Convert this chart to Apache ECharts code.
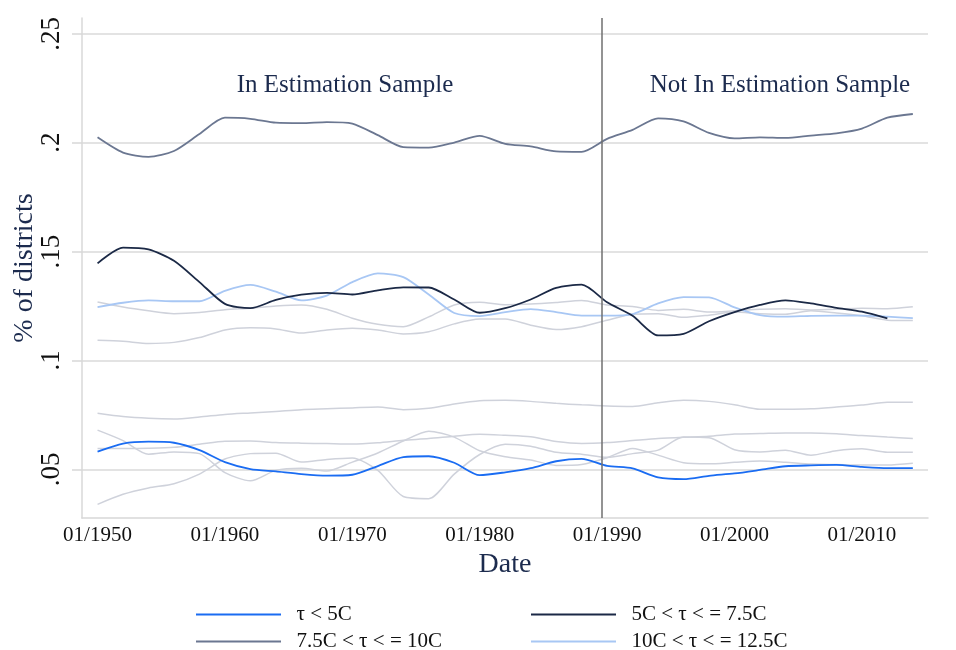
<!DOCTYPE html>
<html>
<head>
<meta charset="utf-8">
<script src="https://cdn.jsdelivr.net/npm/echarts@6/dist/echarts.min.js"></script>
<style>
  html, body { margin: 0; padding: 0; background: #ffffff; }
  #chart { width: 956px; height: 650px; }
</style>
</head>
<body>
<div id="chart"></div>
<script>
// Observation dates (January of every second year)
const years = [1950, 1952, 1954, 1956, 1958, 1960, 1962, 1964, 1966, 1968, 1970,
  1972, 1974, 1976, 1978, 1980, 1982, 1984, 1986, 1988, 1990, 1992, 1994, 1996,
  1998, 2000, 2002, 2004, 2006, 2008, 2010, 2012, 2014];

// Share of districts by temperature bin (highlighted bins)
const tauBelow5 = [0.0581, 0.0618, 0.0627, 0.0622, 0.0588, 0.0533, 0.0501, 0.0490, 0.0478, 0.0471, 0.0475,
  0.0515, 0.0556, 0.0560, 0.0530, 0.0473, 0.0486, 0.0505, 0.0537, 0.0548, 0.0516, 0.0504, 0.0463, 0.0455,
  0.0470, 0.0481, 0.0497, 0.0514, 0.0518, 0.0520, 0.0511, 0.0505, 0.0505];
const tau5to75 = [0.1446, 0.1518, 0.1510, 0.1458, 0.1360, 0.1260, 0.1240, 0.1278, 0.1302, 0.1310, 0.1303,
  0.1322, 0.1336, 0.1335, 0.1280, 0.1219, 0.1240, 0.1280, 0.1333, 0.1348, 0.1267, 0.1205, 0.1115, 0.1122,
  0.1180, 0.1222, 0.1255, 0.1276, 0.1262, 0.1242, 0.1224, 0.1193, null];
const tau75to10 = [0.2025, 0.1955, 0.1935, 0.1962, 0.2040, 0.2115, 0.2110, 0.2092, 0.2090, 0.2095, 0.2088,
  0.2035, 0.1980, 0.1978, 0.2001, 0.2032, 0.1995, 0.1983, 0.1960, 0.1958, 0.2018, 0.2059, 0.2112, 0.2098,
  0.2045, 0.2020, 0.2025, 0.2022, 0.2033, 0.2043, 0.2065, 0.2115, 0.2132];
const tau10to125 = [0.1245, 0.1265, 0.1276, 0.1272, 0.1272, 0.1320, 0.1347, 0.1316, 0.1276, 0.1298, 0.1360,
  0.1400, 0.1383, 0.1303, 0.1218, 0.1204, 0.1222, 0.1236, 0.1222, 0.1206, 0.1206, 0.1213, 0.1262, 0.1291,
  0.1290, 0.1244, 0.1208, 0.1201, 0.1205, 0.1206, 0.1206, 0.1201, 0.1194];

// Remaining temperature bins, drawn as grey context lines
const otherBinA = [0.1268, 0.1245, 0.1228, 0.1215, 0.1220, 0.1233, 0.1240, 0.1250, 0.1255, 0.1235, 0.1194,
  0.1166, 0.1155, 0.1200, 0.1255, 0.1267, 0.1256, 0.1259, 0.1266, 0.1275, 0.1255, 0.1248, 0.1230, 0.1235,
  0.1222, 0.1228, 0.1235, 0.1238, 0.1232, 0.1235, 0.1240, 0.1238, 0.1247];
const otherBinB = [0.1093, 0.1088, 0.1078, 0.1083, 0.1105, 0.1140, 0.1150, 0.1145, 0.1126, 0.1140, 0.1148,
  0.1140, 0.1122, 0.1132, 0.1168, 0.1190, 0.1190, 0.1162, 0.1142, 0.1155, 0.1185, 0.1212, 0.1215, 0.1198,
  0.1208, 0.1222, 0.1215, 0.1212, 0.1228, 0.1218, 0.1205, 0.1185, 0.1183];
const otherBinC = [0.0757, 0.0742, 0.0734, 0.0731, 0.0740, 0.0752, 0.0759, 0.0766, 0.0774, 0.0778, 0.0782,
  0.0786, 0.0774, 0.0780, 0.0800, 0.0815, 0.0817, 0.0812, 0.0803, 0.0796, 0.0791, 0.0789, 0.0806, 0.0817,
  0.0812, 0.0797, 0.0776, 0.0776, 0.0778, 0.0786, 0.0795, 0.0808, 0.0808];
const otherBinD = [0.0596, 0.0596, 0.0597, 0.0601, 0.0615, 0.0629, 0.0630, 0.0623, 0.0620, 0.0618, 0.0616,
  0.0622, 0.0633, 0.0641, 0.0652, 0.0661, 0.0656, 0.0649, 0.0628, 0.0619, 0.0623, 0.0632, 0.0641, 0.0647,
  0.0652, 0.0662, 0.0664, 0.0667, 0.0667, 0.0663, 0.0655, 0.0648, 0.0642];
const otherBinE = [0.0339, 0.0385, 0.0414, 0.0434, 0.0478, 0.0547, 0.0572, 0.0574, 0.0533, 0.0545, 0.0552,
  0.0495, 0.0375, 0.0365, 0.0478, 0.0568, 0.0615, 0.0606, 0.0578, 0.0569, 0.0555, 0.0572, 0.0588, 0.0648,
  0.0645, 0.0590, 0.0580, 0.0588, 0.0565, 0.0585, 0.0594, 0.0578, 0.0578];
const otherBinF = [0.0680, 0.0632, 0.0569, 0.0580, 0.0572, 0.0485, 0.0447, 0.0495, 0.0505, 0.0492, 0.0533,
  0.0575, 0.0630, 0.0675, 0.0648, 0.0585, 0.0558, 0.0543, 0.0518, 0.0522, 0.0553, 0.0596, 0.0565, 0.0530,
  0.0525, 0.0532, 0.0538, 0.0532, 0.0524, 0.0522, 0.0520, 0.0520, 0.0528];

// Axis ticks
const xTickValues = [1950, 1960, 1970, 1980, 1990, 2000, 2010];
const xTickLabels = ['01/1950', '01/1960', '01/1970', '01/1980', '01/1990', '01/2000', '01/2010'];
const yTickValues = [0.05, 0.1, 0.15, 0.2, 0.25];
const yTickLabels = ['.05', '.1', '.15', '.2', '.25'];

// End of the estimation sample
const sampleBreak = 1989.6;

const SERIF = '"Liberation Serif", "Times New Roman", serif';
const NAVY = '#1c2b4e';
const GREY_LINE = '#cfd2db';

function pairs(values) {
  return years.map((y, i) => [y, values[i]]);
}

function line(name, values, color, width, extra) {
  return Object.assign({
    name: name,
    type: 'line',
    data: pairs(values),
    showSymbol: false,
    smooth: 0.25,
    connectNulls: false,
    lineStyle: { color: color, width: width },
    itemStyle: { color: color },
    emphasis: { disabled: true },
    silent: true
  }, extra || {});
}

const greyBins = [otherBinA, otherBinB, otherBinC, otherBinD, otherBinE, otherBinF];
const series = greyBins.map((v, i) => line('other bin ' + (i + 1), v, GREY_LINE, 1.5, { z: 1 }));

series.push(line('τ < 5C', tauBelow5, '#1a6cf2', 1.8, { z: 3 }));
series.push(line('5C < τ < = 7.5C', tau5to75, '#1b2946', 1.8, { z: 3 }));
series.push(line('7.5C < τ < = 10C', tau75to10, '#6b7791', 1.8, { z: 3 }));
series.push(line('10C < τ < = 12.5C', tau10to125, '#a8c7f4', 1.8, {
  z: 2,
  markLine: {
    silent: true,
    symbol: ['none', 'none'],
    label: { show: false },
    lineStyle: { color: '#6f6f6f', width: 1.5, type: 'solid' },
    data: [{ xAxis: sampleBreak }]
  }
}));

// Two legend columns, each stacking two entries
const legendBase = {
  orient: 'vertical',
  top: 604,
  height: 80,
  padding: 0,
  itemWidth: 85,
  itemHeight: 2,
  itemGap: 6,
  icon: 'rect',
  selectedMode: false,
  formatter: name => '  ' + name,
  textStyle: { fontFamily: SERIF, fontSize: 21, color: '#111111', lineHeight: 21 }
};

const chart = echarts.init(document.getElementById('chart'), null, { renderer: 'canvas' });

chart.setOption({
  animation: false,
  backgroundColor: '#ffffff',
  grid: { left: 82, top: 18, width: 846, height: 500, containLabel: false, outerBoundsMode: 'none' },
  xAxis: {
    type: 'value',
    min: 1948.78,
    max: 2015.19,
    name: 'Date',
    nameLocation: 'middle',
    nameGap: 28,
    nameTextStyle: { fontFamily: SERIF, fontSize: 28, color: NAVY },
    axisLine: { show: true, onZero: false, lineStyle: { color: '#d8d8d8', width: 1.5 } },
    axisTick: { show: false, customValues: xTickValues },
    splitLine: { show: false },
    axisLabel: {
      customValues: xTickValues,
      fontFamily: SERIF,
      fontSize: 21,
      color: '#111111',
      margin: 7,
      formatter: v => xTickLabels[xTickValues.indexOf(v)] || ''
    }
  },
  yAxis: {
    type: 'value',
    min: 0.02763,
    max: 0.2573,
    name: '% of districts',
    nameLocation: 'middle',
    nameRotate: 90,
    nameGap: 43,
    nameMoveOverlap: false,
    nameTextStyle: { fontFamily: SERIF, fontSize: 28, color: NAVY },
    axisLine: { show: true, onZero: false, lineStyle: { color: '#d8d8d8', width: 1.5 } },
    axisTick: { show: true, length: 10, customValues: yTickValues, lineStyle: { color: '#d8d8d8', width: 1.5 } },
    splitLine: { show: true, lineStyle: { color: '#dadada', width: 1.5 } },
    axisLabel: {
      customValues: yTickValues,
      rotate: 90,
      fontFamily: SERIF,
      fontSize: 27,
      color: '#111111',
      margin: 17,
      formatter: v => {
        const i = yTickValues.findIndex(t => Math.abs(t - v) < 1e-9);
        return i >= 0 ? yTickLabels[i] : '';
      }
    }
  },
  legend: [
    Object.assign({}, legendBase, { left: 196, data: ['τ < 5C', '7.5C < τ < = 10C'] }),
    Object.assign({}, legendBase, { left: 531, data: ['5C < τ < = 7.5C', '10C < τ < = 12.5C'] })
  ],
  graphic: [
    {
      type: 'text', x: 345, y: 85, silent: true,
      style: { text: 'In Estimation Sample', font: '25px ' + SERIF, fill: NAVY, align: 'center', verticalAlign: 'middle' }
    },
    {
      type: 'text', x: 780, y: 85, silent: true,
      style: { text: 'Not In Estimation Sample', font: '25px ' + SERIF, fill: NAVY, align: 'center', verticalAlign: 'middle' }
    }
  ],
  series: series
});
</script>
</body>
</html>
